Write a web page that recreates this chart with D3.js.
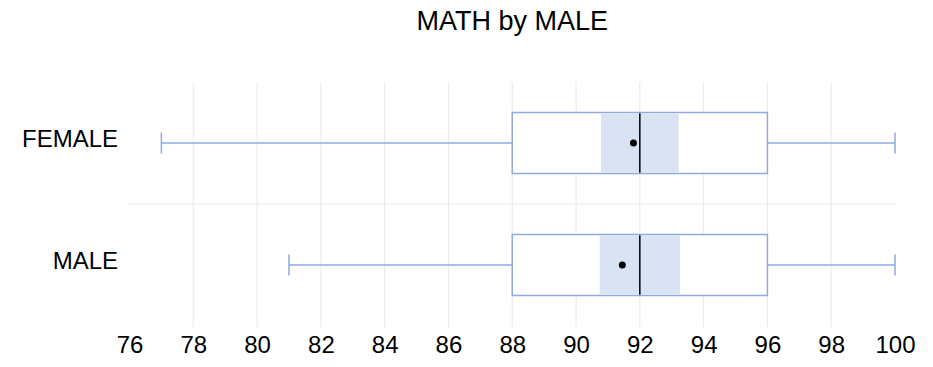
<!DOCTYPE html>
<html>
<head>
<meta charset="utf-8">
<script src="https://cdn.jsdelivr.net/npm/d3@7"></script>
<style>
  body { margin: 0; background: #fff; }
  svg { font-family: "Liberation Sans", Arial, sans-serif; }
</style>
</head>
<body>
<div id="chart"></div>
<script>
const categories = ["FEMALE", "MALE"];
const minVals = [77, 81];
const q1Vals = [88, 88];
const medianVals = [92, 92];
const q3Vals = [96, 96];
const maxVals = [100, 100];
const meanVals = [91.8, 91.45];
const notchLow = [90.78, 90.74];
const notchHigh = [93.22, 93.26];
const xTicks = [76, 78, 80, 82, 84, 86, 88, 90, 92, 94, 96, 98, 100];

const data = categories.map((c, i) => ({
  cat: c, min: minVals[i], q1: q1Vals[i], med: medianVals[i], q3: q3Vals[i],
  max: maxVals[i], mean: meanVals[i], nLo: notchLow[i], nHi: notchHigh[i]
}));

let width = 933, height = 367,
  margin = ({ top: 82, right: 38, bottom: 41, left: 129.5 });

let x = d3.scaleLinear()
  .domain([76, 100])
  .range([margin.left, width - margin.right]);

let y = d3.scaleBand()
  .domain(categories)
  .range([margin.top, height - margin.bottom]);

const boxColor = "#8faadc";

const svg = d3.select("#chart")
  .append("svg")
  .attr("width", width)
  .attr("height", height)
  .attr("viewBox", [0, 0, width, height]);

svg.append("text")
  .attr("x", (x.range()[0] + x.range()[1]) / 2)
  .attr("y", 30)
  .attr("text-anchor", "middle")
  .attr("font-size", 27)
  .text("MATH by MALE");

// grid
svg.append("g")
  .selectAll("line")
  .data(xTicks.slice(1, -1))
  .join("line")
  .attr("x1", d => x(d)).attr("x2", d => x(d))
  .attr("y1", margin.top).attr("y2", height - margin.bottom + 1)
  .attr("stroke", "#e8e8e8")
  .attr("stroke-width", 1);

svg.append("line")
  .attr("x1", x.range()[0] - 1.5).attr("x2", x.range()[1])
  .attr("y1", y("MALE")).attr("y2", y("MALE"))
  .attr("stroke", "#e8e8e8");

// x axis
const xAxis = svg.append("g")
  .attr("transform", `translate(0,${height - margin.bottom})`)
  .call(d3.axisBottom(x).tickValues(xTicks).tickSize(0).tickPadding(10));
xAxis.select(".domain").remove();
xAxis.selectAll("text").attr("font-size", 24).attr("fill", "#000")
  .attr("font-family", "Liberation Sans, Arial, sans-serif");

// y axis labels
const yAxis = svg.append("g")
  .attr("transform", `translate(118,0)`)
  .call(d3.axisLeft(y).tickSize(0).tickPadding(0));
yAxis.select(".domain").remove();
yAxis.selectAll("text").attr("font-size", 24).attr("fill", "#000")
  .attr("dy", "0.18em")
  .attr("font-family", "Liberation Sans, Arial, sans-serif");

const boxH = y.bandwidth() * 0.5;
const g = svg.append("g").selectAll("g").data(data).join("g");
const cy = d => y(d.cat) + y.bandwidth() / 2;

// whiskers
g.append("line")
  .attr("x1", d => x(d.min)).attr("x2", d => x(d.q1))
  .attr("y1", cy).attr("y2", cy)
  .attr("stroke", boxColor).attr("stroke-width", 1.5);
g.append("line")
  .attr("x1", d => x(d.q3)).attr("x2", d => x(d.max))
  .attr("y1", cy).attr("y2", cy)
  .attr("stroke", boxColor).attr("stroke-width", 1.5);
g.append("line")
  .attr("x1", d => x(d.min)).attr("x2", d => x(d.min))
  .attr("y1", d => cy(d) - 10.5).attr("y2", d => cy(d) + 10.5)
  .attr("stroke", boxColor).attr("stroke-width", 1.5);
g.append("line")
  .attr("x1", d => x(d.max)).attr("x2", d => x(d.max))
  .attr("y1", d => cy(d) - 10.5).attr("y2", d => cy(d) + 10.5)
  .attr("stroke", boxColor).attr("stroke-width", 1.5);

// box
g.append("rect")
  .attr("x", d => x(d.q1)).attr("width", d => x(d.q3) - x(d.q1))
  .attr("y", d => cy(d) - boxH / 2).attr("height", boxH)
  .attr("fill", "#fff").attr("stroke", boxColor).attr("stroke-width", 1.5);

// notch band
g.append("rect")
  .attr("x", d => x(d.nLo)).attr("width", d => x(d.nHi) - x(d.nLo))
  .attr("y", d => cy(d) - boxH / 2 + 0.75).attr("height", boxH - 1.5)
  .attr("fill", "#dae3f3");

// median
g.append("line")
  .attr("x1", d => x(d.med)).attr("x2", d => x(d.med))
  .attr("y1", d => cy(d) - boxH / 2 + 0.75).attr("y2", d => cy(d) + boxH / 2 - 0.75)
  .attr("stroke", "#000").attr("stroke-width", 1.5);

// mean
g.append("circle")
  .attr("cx", d => x(d.mean)).attr("cy", cy)
  .attr("r", 3.5).attr("fill", "#000");
</script>
</body>
</html>
